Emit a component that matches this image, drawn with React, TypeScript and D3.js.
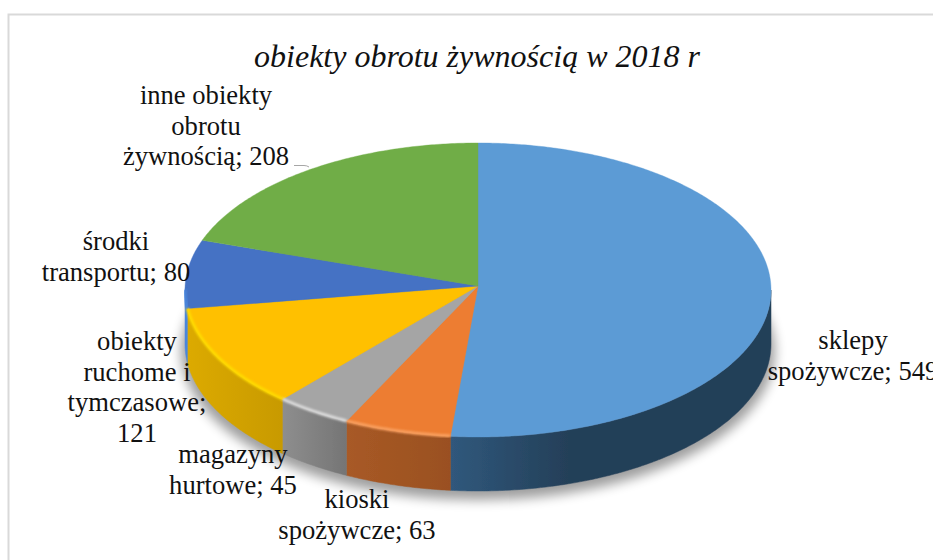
import React from 'react';
import * as d3 from 'd3';

const width = 933;
const height = 560;

const titleText = 'obiekty obrotu żywnością w 2018 r';
const categories = [
  'sklepy spożywcze',
  'kioski spożywcze',
  'magazyny hurtowe',
  'obiekty ruchome i tymczasowe',
  'środki transportu',
  'inne obiekty obrotu żywnością',
];
const values = [549, 63, 45, 121, 80, 208];
const topColors = ['#5b9bd5', '#ed7d31', '#a5a5a5', '#ffc000', '#4472c4', '#70ad47'];
const rimColors = ['#5b9bd5', '#f9a060', '#dcdcdc', '#ffdc00', '#4a86dc', '#70ad47'];
const sideStart = ['#30587c', '#a85a26', '#8e8e8e', '#dcaa00', '#4a86dc', '#70ad47'];
const sideEnd = ['#243f58', '#9a5020', '#757575', '#c89a00', '#4a86dc', '#70ad47'];
const labelLines = [
  ['sklepy', 'spożywcze; 549'],
  ['kioski', 'spożywcze; 63'],
  ['magazyny', 'hurtowe; 45'],
  ['obiekty', 'ruchome i', 'tymczasowe;', '121'],
  ['środki', 'transportu; 80'],
  ['inne obiekty', 'obrotu', 'żywnością; 208'],
];

// label layout, first baseline + centre
const labelX = [853, 357, 233, 137, 116, 206];
const labelY = [349, 508, 463, 350, 250, 104];
const lineH = 30.6;

const cx = 478;
const cy = 290;
const rx = 293;
const ry = 147;
const apexY = 286;
const depth = 54;

const sx = d3.scaleLinear().domain([-1, 1]).range([cx - rx, cx + rx]);
const sy = d3.scaleLinear().domain([-1, 1]).range([cy + ry, cy - ry]);
const line = d3.line<[number, number]>();

const rim = (a: number, b: number, dy = 0): [number, number][] => {
  const n = Math.max(2, Math.ceil((b - a) / 0.01));
  return d3.range(n + 1).map((i) => {
    const t = a + ((b - a) * i) / n;
    return [sx(Math.sin(t)), sy(Math.cos(t)) + dy] as [number, number];
  });
};

const slices = d3.pie<number>().sort(null).startAngle(0).endAngle(2 * Math.PI)(values);

const sidePath = (a: number, b: number) => {
  const from = Math.max(a, Math.PI / 2);
  const to = Math.min(b, (3 * Math.PI) / 2);
  if (to <= from) return null;
  return line([...rim(from, to), ...rim(from, to, depth).reverse()]) + 'Z';
};

export default function App() {
  return (
    <svg
      width={width}
      height={height}
      style={{ position: 'absolute', left: 0, top: 0, background: '#fff', fontFamily: '"Liberation Serif", serif' }}
    >
      <defs>
        <filter id="soft" x="-10%" y="-10%" width="120%" height="120%">
          <feGaussianBlur stdDeviation="6" />
        </filter>
        <filter id="rimBlur" x="-10%" y="-10%" width="120%" height="120%">
          <feGaussianBlur stdDeviation="1" />
        </filter>
        <filter id="edge" x="-5%" y="-5%" width="110%" height="110%">
          <feGaussianBlur stdDeviation="0.7" />
        </filter>
        {slices.map((s, i) => {
          const from = Math.max(s.startAngle, Math.PI / 2);
          const to = Math.min(s.endAngle, (3 * Math.PI) / 2);
          if (to <= from) return null;
          // big slice runs dark from around x=570 on
          const x1 = sx(Math.sin(to));
          const x2 = i === 0 ? 570 : sx(Math.sin(from));
          return (
            <linearGradient key={i} id={`side${i}`} gradientUnits="userSpaceOnUse" x1={x1} x2={x2} y1={0} y2={0}>
              <stop offset="0" stopColor={sideStart[i]} />
              <stop offset="1" stopColor={sideEnd[i]} />
            </linearGradient>
          );
        })}
      </defs>

      <path d={`M8.5 560V14.5H933`} fill="none" stroke="#d9d9d9" strokeWidth={2} />

      <ellipse cx={cx} cy={cy + depth + 7} rx={rx + 4} ry={ry + 2} fill="#000" opacity={0.38} filter="url(#soft)" />

      <g filter="url(#edge)">
        {slices.map((s, i) => {
          const d = sidePath(s.startAngle, s.endAngle);
          return d ? <path key={categories[i]} d={d} fill={`url(#side${i})`} stroke={`url(#side${i})`} strokeWidth={0.5} /> : null;
        })}
        {slices.map((s, i) => (
          <path
            key={categories[i]}
            d={line([[cx, apexY], ...rim(s.startAngle, s.endAngle)]) + 'Z'}
            fill={topColors[i]}
            stroke={topColors[i]}
            strokeWidth={0.4}
          />
        ))}
        {slices.map((s, i) => {
          const from = Math.max(s.startAngle, Math.PI / 2);
          const to = Math.min(s.endAngle, (3 * Math.PI) / 2);
          if (to <= from || rimColors[i] === topColors[i]) return null;
          return (
            <path
              key={categories[i]}
              d={line(rim(from, to, -0.5)) as string}
              fill="none"
              stroke={rimColors[i]}
              strokeWidth={3}
              filter="url(#rimBlur)"
            />
          );
        })}
      </g>

      <path d="M294 165.5H304Q307 165.5 309 167" fill="none" stroke="#a6a6a6" strokeWidth={1} />

      <text x={477} y={67} textAnchor="middle" fontSize={32} fontStyle="italic" fill="#111">
        {titleText}
      </text>
      {labelLines.map((lines, i) => (
        <text key={categories[i]} textAnchor="middle" fontSize={26.6} fill="#111">
          {lines.map((l, j) => (
            <tspan key={j} x={labelX[i]} y={labelY[i] + j * lineH}>
              {l}
            </tspan>
          ))}
        </text>
      ))}
    </svg>
  );
}
